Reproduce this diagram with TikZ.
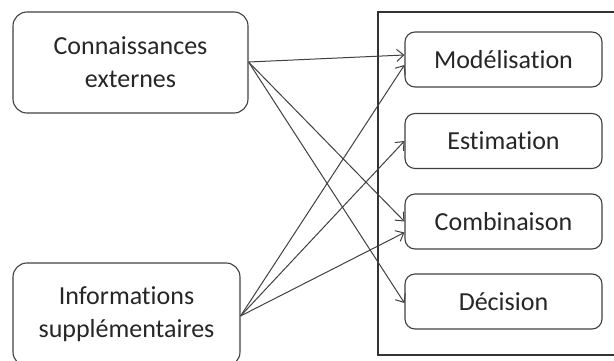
\documentclass[tikz,border=0pt]{standalone}
\usepackage{fontspec}
\setmainfont{Carlito}[Ligatures={NoCommon}]
\usetikzlibrary{arrows.meta}

\begin{document}
\begin{tikzpicture}[x=1pt,y=-1pt,
  every node/.style={font=\fontsize{26}{33}\selectfont, text=black!85},
  source/.style={draw=black!75, line width=1.1pt, rounded corners=14pt, align=center},
  etape/.style={draw=black!75, line width=1.1pt, rounded corners=10pt, minimum width=197pt, minimum height=55pt},
  fleche/.style={draw=black!75, line width=1pt, -{Straight Barb[length=7pt,width=12pt]}}]

\useasboundingbox (0,0) rectangle (614,361);

% cadre autour des etapes
\node (cadre) at(499,183.5) [draw=black!80, line width=1.1pt, minimum width=242pt, minimum height=343pt]{};

% sources
\node (connaissances) at(130.5,62.5) [source, minimum width=235pt, minimum height=101pt]{Connaissances\\externes};
\node (informations) at(126.5,314.5) [source, minimum width=227pt, minimum height=103pt]{Informations\\supplémentaires};

% etapes
\node (modelisation) at(503.5,59.5) [etape]{Modélisation};
\node (estimation) at(503.5,141) [etape]{Estimation};
\node (combinaison) at(503.5,221.5) [etape]{Combinaison};
\node (decision) at(503.5,301.5) [etape]{Décision};

%-----------------------------------------------------
\draw [fleche] ([yshift=.5pt]connaissances.east) -- ([yshift=4.5pt]modelisation.west);
\draw [fleche] ([yshift=.5pt]connaissances.east) -- (combinaison.west);
\draw [fleche] ([yshift=.5pt]connaissances.east) -- ([yshift=-1.5pt]decision.west);

\draw [fleche] ([yshift=-1.5pt]informations.east) -- ([yshift=-5.5pt]modelisation.west);
\draw [fleche] ([yshift=-1.5pt]informations.east) -- (estimation.west);
\draw [fleche] ([yshift=-1.5pt]informations.east) -- ([yshift=-11pt]combinaison.west);

\end{tikzpicture}
\end{document}
